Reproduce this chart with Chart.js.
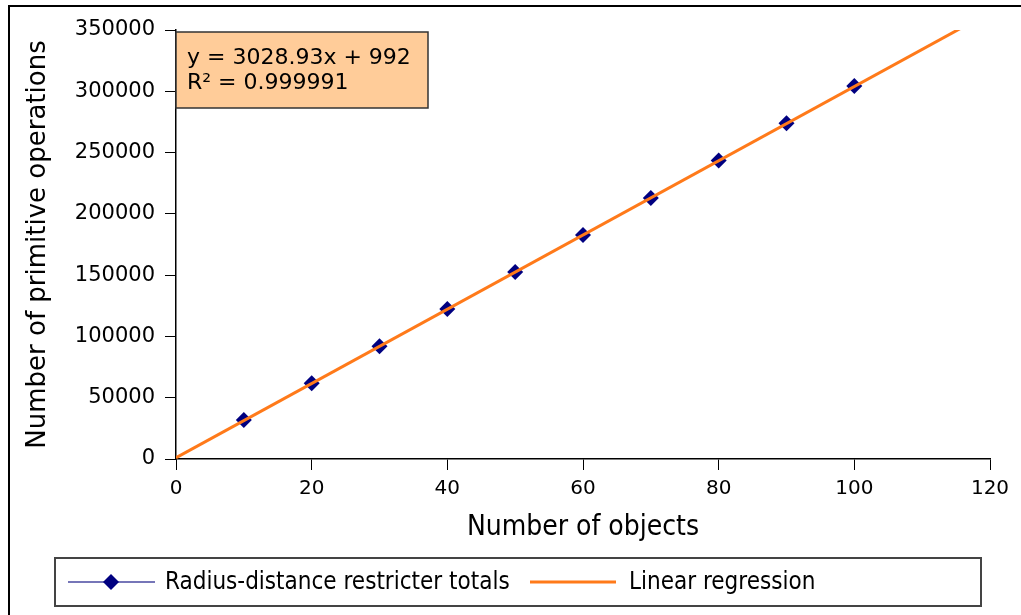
<!DOCTYPE html>
<html>
<head>
<meta charset="utf-8">
<script src="https://cdn.jsdelivr.net/npm/chart.js@4"></script>
<style>
  html, body { margin: 0; padding: 0; background: #fff; }
</style>
</head>
<body>
<canvas id="chart" width="1021" height="615"></canvas>
<script>
// measured totals
const objects = [10, 20, 30, 40, 50, 60, 70, 80, 90, 100];
const operations = [31800, 61800, 92000, 122300, 152500, 182800, 213000, 243500, 274000, 304300];

// regression line end points (y = 3028.93x + 992)
const regX = [0, 120];
const regY = [992, 364464];

const eqLines = ['y = 3028.93x + 992', 'R\u00b2 = 0.999991'];
const seriesNames = ['Radius-distance restricter totals', 'Linear regression'];

const navy = '#000080';
const orange = '#ff7a1a';

const pointsData = objects.map((x, i) => ({x: x, y: operations[i]}));
const regData = regX.map((x, i) => ({x: x, y: regY[i]}));

const extras = {
  id: 'extras',
  beforeDraw(chart) {
    const ctx = chart.ctx;
    ctx.save();
    ctx.fillStyle = '#fff';
    ctx.fillRect(0, 0, chart.width, chart.height);
    ctx.restore();
  },
  afterDraw(chart) {
    const ctx = chart.ctx;
    const area = chart.chartArea;
    ctx.save();

    // outer frame
    ctx.strokeStyle = '#000';
    ctx.lineWidth = 2;
    ctx.beginPath();
    ctx.moveTo(9, chart.height + 2);
    ctx.lineTo(9, 6);
    ctx.lineTo(chart.width + 2, 6);
    ctx.stroke();

    // equation box
    ctx.fillStyle = '#ffcc99';
    ctx.strokeStyle = '#333';
    ctx.lineWidth = 1.5;
    ctx.fillRect(area.left, area.top + 2, 252, 76);
    ctx.strokeRect(area.left, area.top + 2, 252, 76);
    ctx.fillStyle = '#000';
    ctx.font = '22px "DejaVu Sans"';
    ctx.textBaseline = 'alphabetic';
    ctx.fillText(eqLines[0], area.left + 11, area.top + 34);
    ctx.fillText(eqLines[1], area.left + 11, area.top + 59);

    // legend box
    ctx.strokeStyle = '#444';
    ctx.lineWidth = 2;
    ctx.strokeRect(55, 558, 926, 48);
    const ly = 582;
    ctx.strokeStyle = '#4848a0';
    ctx.lineWidth = 1.5;
    ctx.beginPath();
    ctx.moveTo(68, ly);
    ctx.lineTo(155, ly);
    ctx.stroke();
    ctx.fillStyle = navy;
    ctx.beginPath();
    ctx.moveTo(111, ly - 8);
    ctx.lineTo(119, ly);
    ctx.lineTo(111, ly + 8);
    ctx.lineTo(103, ly);
    ctx.closePath();
    ctx.fill();
    ctx.strokeStyle = orange;
    ctx.lineWidth = 3;
    ctx.beginPath();
    ctx.moveTo(530, ly);
    ctx.lineTo(616, ly);
    ctx.stroke();
    ctx.fillStyle = '#000';
    ctx.font = '24px "DejaVu Sans Condensed"';
    ctx.textBaseline = 'middle';
    ctx.fillText(seriesNames[0], 165, ly + 1);
    ctx.fillText(seriesNames[1], 629, ly + 1);
    ctx.restore();
  }
};

new Chart(document.getElementById('chart').getContext('2d'), {
  type: 'scatter',
  data: {
    datasets: [
      {
        label: seriesNames[1],
        data: regData,
        showLine: true,
        borderColor: orange,
        borderWidth: 3,
        pointRadius: 0,
        order: 0
      },
      {
        label: seriesNames[0],
        data: pointsData,
        showLine: false,
        pointStyle: 'rectRot',
        pointRadius: 8,
        pointBackgroundColor: navy,
        pointBorderColor: navy,
        pointBorderWidth: 0,
        order: 1
      }
    ]
  },
  options: {
    responsive: false,
    animation: false,
    layout: {padding: {left: 0, right: 31, top: 30, bottom: 0}},
    plugins: {legend: {display: false}, tooltip: {enabled: false}},
    scales: {
      x: {
        type: 'linear',
        min: 0,
        max: 120,
        afterFit: s => { s.height = 156; },
        ticks: {stepSize: 20, padding: 7, color: '#000', font: {family: 'DejaVu Sans', size: 20}},
        grid: {drawOnChartArea: false, drawTicks: true, tickLength: 11, color: '#000', lineWidth: 1},
        border: {display: true, color: '#000', width: 1.5},
        title: {display: true, text: 'Number of objects', color: '#000',
          font: {family: 'DejaVu Sans Condensed', size: 28}, padding: {top: 0, bottom: 70}}
      },
      y: {
        min: 0,
        max: 350000,
        afterFit: s => { s.width = 176; },
        ticks: {stepSize: 50000, padding: 10, color: '#000', callback: v => String(v),
          font: {family: 'DejaVu Sans', size: 21}},
        grid: {drawOnChartArea: false, drawTicks: true, tickLength: 11, color: '#000', lineWidth: 1},
        border: {display: true, color: '#000', width: 1.5},
        title: {display: true, text: 'Number of primitive operations', color: '#000',
          font: {family: 'DejaVu Sans', size: 26}, padding: {top: 23, bottom: 0}}
      }
    }
  },
  plugins: [extras]
});
</script>
</body>
</html>
